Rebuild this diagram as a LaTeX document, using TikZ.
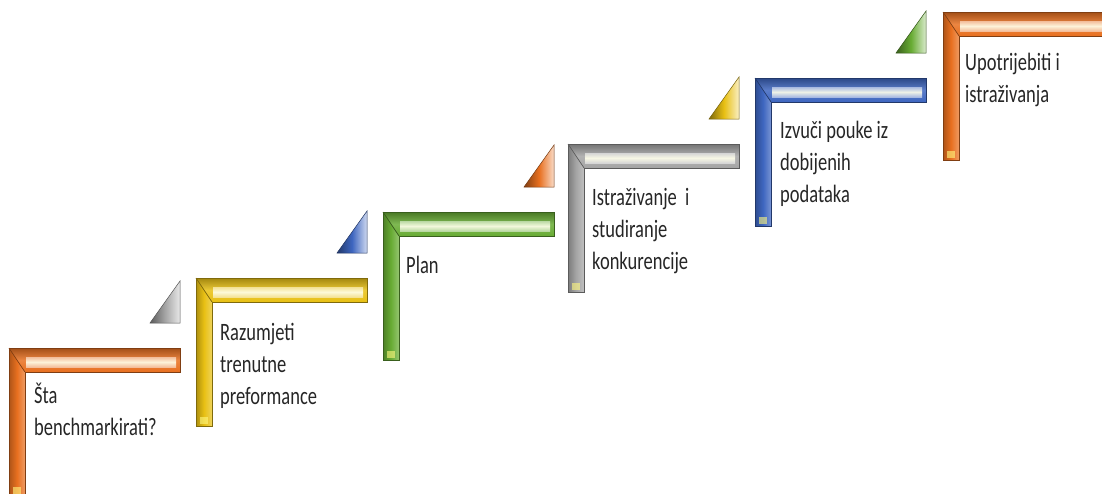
\documentclass[tikz,border=0pt]{standalone}
\usepackage{fontspec}
\setmainfont{Carlito}[FakeStretch=0.74]
\definecolor{cOr}{RGB}{232,112,32}
\definecolor{cYe}{RGB}{232,192,20}
\definecolor{cGr}{RGB}{104,172,52}
\definecolor{cGy}{RGB}{165,165,165}
\definecolor{cBl}{RGB}{62,102,192}
\tikzset{
  steptext/.style={anchor=north west, inner sep=0pt, align=left,
    font=\fontsize{25}{32}\selectfont, text=black!85},
}
% L-shaped stair bar
\newcommand{\stairL}[3]{%
  \begin{scope}[shift={(#1,#2)}]
    \fill[#3] (0,0) -- (171,0) -- (171,24) -- (16,24) -- (16,148) -- (0,148) -- cycle;
    \shade[left color=#3!75!black, right color=#3!70!white, middle color=#3]
      (0,0) -- (16,24) -- (16,148) -- (0,148) -- cycle;
    \shade[top color=#3!70!black, bottom color=#3, middle color=#3!85!white]
      (0,0) -- (171,0) -- (171,24) -- (16,24) -- cycle;
    \shade[top color=#3!40!white, bottom color=#3!40!white, middle color=yellow!8!white, opacity=0.9]
      (17,9) rectangle (167,19);
    \fill[yellow!50!white, opacity=0.6] (4,139) rectangle (12,146);
    \draw[#3!55!black, line width=0.7pt] (0,0) -- (16,24);
    \draw[#3!55!black, line width=0.8pt]
      (0,0) -- (171,0) -- (171,24) -- (16,24) -- (16,148) -- (0,148) -- cycle;
  \end{scope}}
% small bevelled triangle
\newcommand{\stairT}[3]{%
  \begin{scope}[shift={(#1,#2)}]
    \shade[left color=#3!55!black, right color=#3!25!white, middle color=#3]
      (171,-25) -- (171,-67) -- (141,-25) -- cycle;
    \draw[#3!50!black, line width=0.5pt] (171,-25) -- (171,-67) -- (141,-25) -- cycle;
  \end{scope}}
\begin{document}
\begin{tikzpicture}[x=1pt, y=-1pt]
  \useasboundingbox (0,0) rectangle (1102,493);
  \clip (0,0) rectangle (1102,493);
  \stairL{9}{348}{cOr}
  \stairL{196}{278}{cYe}
  \stairL{383}{212}{cGr}
  \stairL{568}{144}{cGy}
  \stairL{755}{78}{cBl}
  \stairL{943}{12}{cOr}
  \stairT{9}{348}{cGy}
  \stairT{196}{278}{cBl}
  \stairT{383}{212}{cOr}
  \stairT{568}{144}{cYe}
  \stairT{755}{78}{cGr}
  \node[steptext] (t1) at (34,381) {\strut Šta\\benchmarkirati?};
  \node[steptext] (t2) at (220,318) {\strut Razumjeti\\trenutne\\preformance};
  \node[steptext] (t3) at (406,251) {\strut Plan};
  \node[steptext] (t4) at (592,183) {\strut Istraživanje\ \ i\\studiranje\\konkurencije};
  \node[steptext] (t5) at (780,116) {\strut Izvuči pouke iz\\dobijenih\\podataka};
  \node[steptext] (t6) at (965,48) {\strut Upotrijebiti i\\istraživanja};
\end{tikzpicture}
\end{document}
